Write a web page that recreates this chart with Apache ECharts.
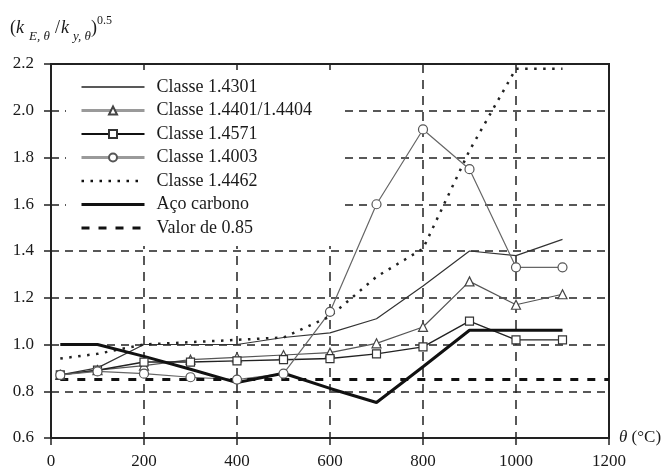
<!DOCTYPE html>
<html>
<head>
<meta charset="utf-8">
<script src="https://cdn.jsdelivr.net/npm/echarts@6/dist/echarts.min.js"></script>
<style>
  html, body { margin: 0; padding: 0; background: #fff; }
  #chart { width: 670px; height: 472px; }
</style>
</head>
<body>
<div id="chart"></div>
<script>
// Temperatures (°C) at which the ratios are tabulated
const temperatures = [20, 100, 200, 300, 400, 500, 600, 700, 800, 900, 1000, 1100];

// (k_E,θ / k_y,θ)^0.5 for each steel grade
const classe14301 = [0.87, 0.90, 1.00, 1.00, 1.00, 1.03, 1.05, 1.11, 1.25, 1.40, 1.38, 1.45];
const classe14401 = [0.87, 0.89, 0.91, 0.935, 0.945, 0.955, 0.965, 1.005, 1.075, 1.27, 1.17, 1.215];
const classe14571 = [0.87, 0.89, 0.925, 0.925, 0.93, 0.935, 0.94, 0.96, 0.99, 1.10, 1.02, 1.02];
const classe14003 = [0.87, 0.885, 0.875, 0.86, 0.85, 0.875, 1.14, 1.60, 1.92, 1.75, 1.33, 1.33];
const classe14462 = [0.94, 0.96, 1.00, 1.01, 1.02, 1.03, 1.12, 1.29, 1.41, 1.83, 2.18, 2.18];
const acoCarbono  = [1.00, 1.00, 0.949, 0.894, 0.837, 0.877, 0.812, 0.752, 0.905, 1.061, 1.061, 1.061];

// Constant reference value and the span it is drawn over
const valorReferencia = 0.85;
const referenciaSpan = [20, 1200];

// Axis ticks
const xTicks = [0, 200, 400, 600, 800, 1000, 1200];
const yTicks = [0.6, 0.8, 1.0, 1.2, 1.4, 1.6, 1.8, 2.0, 2.2];

const serif = "'Liberation Serif', 'Times New Roman', serif";
const ink = '#1a1a1a';

const pairs = vals => temperatures.map((t, i) => [t, vals[i]]);

const hollow = (border) => ({ color: '#fff', borderColor: border, borderWidth: 1.2 });

// legend entries of plain lines carry no marker
const noMarker = { opacity: 0 };

const chart = echarts.init(document.getElementById('chart'), null, { renderer: 'canvas' });

chart.setOption({
  animation: false,
  backgroundColor: '#fff',
  grid: {
    left: 51, right: 61, top: 64, bottom: 34,
    show: true, borderColor: '#222', borderWidth: 2, backgroundColor: 'transparent'
  },
  xAxis: {
    type: 'value',
    min: xTicks[0], max: xTicks[xTicks.length - 1], interval: xTicks[1] - xTicks[0],
    axisLine: { show: true, lineStyle: { color: '#222', width: 2 } },
    axisTick: { show: true, length: 7, lineStyle: { color: '#222', width: 1.5 } },
    axisLabel: { margin: 15, color: ink, fontFamily: serif, fontSize: 17, formatter: v => String(v) },
    splitLine: { show: true, lineStyle: { color: '#222', width: 1.5, type: [9, 7] } },
    name: '{t|θ} (°C)',
    nameLocation: 'end',
    nameGap: 10,
    nameTextStyle: {
      color: ink, fontFamily: serif, fontSize: 17,
      rich: { t: { fontStyle: 'italic', fontFamily: serif, fontSize: 17, color: ink } }
    }
  },
  yAxis: {
    type: 'value',
    min: yTicks[0], max: yTicks[yTicks.length - 1], interval: 0.2,
    axisLine: { show: true, lineStyle: { color: '#222', width: 2 } },
    axisTick: { show: true, length: 7, lineStyle: { color: '#222', width: 1.5 } },
    axisLabel: { margin: 17, color: ink, fontFamily: serif, fontSize: 17, formatter: v => v.toFixed(1) },
    splitLine: { show: true, lineStyle: { color: '#222', width: 1.5, type: [8, 6] } }
  },
  legend: {
    orient: 'vertical',
    left: 80, top: 78,
    padding: 0,
    itemWidth: 63, itemHeight: 10, itemGap: 5.5,
    selectedMode: false,
    z: 5,
    textStyle: { color: ink, fontFamily: serif, fontSize: 18, lineHeight: 18, padding: [0, 0, 0, 7] },
    data: [
      { name: 'Classe 1.4301', itemStyle: noMarker, lineStyle: { color: '#222', width: 1.5 } },
      { name: 'Classe 1.4401/1.4404', lineStyle: { color: '#9a9a9a', width: 3 } },
      { name: 'Classe 1.4571', lineStyle: { color: '#111', width: 1.8 } },
      { name: 'Classe 1.4003', lineStyle: { color: '#9a9a9a', width: 3 } },
      { name: 'Classe 1.4462', itemStyle: noMarker, lineStyle: { color: '#111', width: 2.5, type: [2.5, 6.5] } },
      { name: 'Aço carbono', itemStyle: noMarker, lineStyle: { color: '#111', width: 3 } },
      { name: 'Valor de 0.85', itemStyle: noMarker, lineStyle: { color: '#111', width: 3, type: [8, 9] } }
    ]
  },
  graphic: [
    // white panel behind the legend
    { type: 'rect', z: 3, shape: { x: 66, y: 70, width: 275, height: 176 }, style: { fill: '#fff' } },
    // y-axis title: (k_E,θ / k_y,θ)^0.5
    { type: 'text', z: 5, style: { x: 10, y: 28, text: '(', font: '18px ' + serif, fill: ink, verticalAlign: 'middle' } },
    { type: 'text', z: 5, style: { x: 16, y: 28, text: 'k', font: 'italic 18px ' + serif, fill: ink, verticalAlign: 'middle' } },
    { type: 'text', z: 5, style: { x: 29, y: 37, text: 'E, θ', font: 'italic 13px ' + serif, fill: ink, verticalAlign: 'middle' } },
    { type: 'text', z: 5, style: { x: 55, y: 28, text: '/', font: '18px ' + serif, fill: ink, verticalAlign: 'middle' } },
    { type: 'text', z: 5, style: { x: 61, y: 28, text: 'k', font: 'italic 18px ' + serif, fill: ink, verticalAlign: 'middle' } },
    { type: 'text', z: 5, style: { x: 73, y: 37, text: 'y, θ', font: 'italic 13px ' + serif, fill: ink, verticalAlign: 'middle' } },
    { type: 'text', z: 5, style: { x: 91, y: 28, text: ')', font: '18px ' + serif, fill: ink, verticalAlign: 'middle' } },
    { type: 'text', z: 5, style: { x: 97, y: 21, text: '0.5', font: '12px ' + serif, fill: ink, verticalAlign: 'middle' } }
  ],
  series: [
    {
      name: 'Classe 1.4301', type: 'line', data: pairs(classe14301),
      symbol: 'none', lineStyle: { color: '#333', width: 1.2 }, itemStyle: { color: '#333' }
    },
    {
      name: 'Classe 1.4401/1.4404', type: 'line', data: pairs(classe14401),
      symbol: 'triangle', symbolSize: 9,
      lineStyle: { color: '#555', width: 1.2 }, itemStyle: hollow('#444')
    },
    {
      name: 'Classe 1.4571', type: 'line', data: pairs(classe14571),
      symbol: 'rect', symbolSize: 8,
      lineStyle: { color: '#222', width: 1.4 }, itemStyle: hollow('#333')
    },
    {
      name: 'Classe 1.4003', type: 'line', data: pairs(classe14003),
      symbol: 'circle', symbolSize: 9,
      lineStyle: { color: '#666', width: 1.2 }, itemStyle: hollow('#555')
    },
    {
      name: 'Classe 1.4462', type: 'line', data: pairs(classe14462),
      symbol: 'none', lineStyle: { color: '#222', width: 2.5, type: [2.5, 6.5] }, itemStyle: { color: '#222' }
    },
    {
      name: 'Aço carbono', type: 'line', data: pairs(acoCarbono),
      symbol: 'none', lineStyle: { color: '#111', width: 3 }, itemStyle: { color: '#111' }
    },
    {
      name: 'Valor de 0.85', type: 'line',
      data: referenciaSpan.map(t => [t, valorReferencia]),
      symbol: 'none', lineStyle: { color: '#111', width: 3, type: [8, 9] }, itemStyle: { color: '#111' }
    }
  ]
});
</script>
</body>
</html>
